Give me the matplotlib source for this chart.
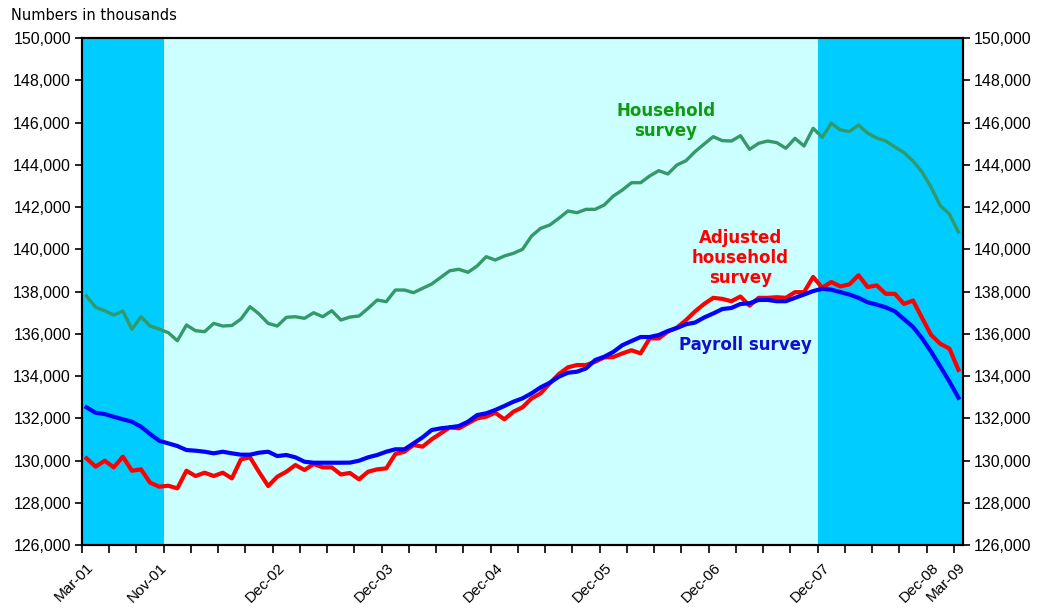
from matplotlib import pyplot as pl
from matplotlib.ticker import FuncFormatter, MultipleLocator
import numpy as np

# Monthly series, Mar-01 .. Mar-09 (numbers in thousands)
household = [
    137786, 137252, 137090, 136887, 137076, 136209, 136806, 136366, 136224,
    136050, 135670, 136413, 136144, 136097, 136490, 136366, 136390, 136697,
    137280, 136935, 136490, 136366, 136778, 136806, 136730, 136995, 136806,
    137090, 136650, 136790, 136840, 137200, 137597, 137517, 138070, 138070,
    137945, 138150, 138354, 138670, 138984, 139050, 138908, 139206, 139647,
    139490, 139680, 139808, 139997, 140627, 140990, 141147, 141464, 141810,
    141730, 141890, 141890, 142094, 142520, 142804, 143150, 143150, 143467,
    143720, 143562, 143988, 144192, 144620, 144982, 145328, 145140, 145124,
    145375, 144730, 145015, 145124, 145045, 144780, 145250, 144887, 145725,
    145300, 145962, 145645, 145580, 145880, 145500, 145266, 145124, 144840,
    144575, 144177, 143650, 142930, 142060, 141670, 140816,
]

adjusted = [
    130103, 129710, 129990, 129676, 130180, 129516, 129580, 128950, 128760,
    128806, 128683, 129516, 129265, 129423, 129265, 129423, 129155, 130055,
    130150, 129450, 128790, 129234, 129470, 129786, 129550, 129834, 129676,
    129676, 129340, 129410, 129108, 129470, 129580, 129628, 130305, 130416,
    130733, 130655, 131003, 131287, 131570, 131523, 131760, 131995, 132074,
    132260, 131948, 132310, 132517, 132942, 133180, 133652, 134090, 134410,
    134520, 134520, 134676, 134880, 134900, 135070, 135220, 135070, 135780,
    135780, 136100, 136290, 136645, 137060, 137410, 137700, 137650, 137540,
    137763, 137330, 137700, 137700, 137730, 137700, 137970, 137970, 138690,
    138180, 138450, 138240, 138340, 138770, 138210, 138290, 137890, 137890,
    137410, 137570, 136740, 135940, 135525, 135300, 134290,
]

payroll = [
    132517, 132260, 132200, 132070, 131950, 131836, 131600, 131253, 130937,
    130810, 130685, 130496, 130464, 130416, 130340, 130416, 130340, 130275,
    130275, 130370, 130416, 130210, 130260, 130150, 129942, 129895, 129895,
    129895, 129895, 129900, 129990, 130150, 130260, 130416, 130530, 130530,
    130810, 131097, 131443, 131523, 131570, 131632, 131836, 132150, 132233,
    132390, 132580, 132783, 132942, 133180, 133464, 133680, 133966, 134155,
    134203, 134360, 134756, 134913, 135140, 135460, 135655, 135845, 135845,
    135940, 136130, 136270, 136450, 136530, 136770, 136960, 137170, 137220,
    137410, 137445, 137600, 137600, 137540, 137540, 137700, 137857, 138020,
    138130, 138085, 137970, 137857, 137700, 137490, 137380, 137250, 137060,
    136690, 136320, 135780, 135140, 134450, 133735, 132970,
]

label_pos = [0, 8, 21, 33, 45, 57, 69, 81, 93, 96]
label_txt = ['Mar-01', 'Nov-01', 'Dec-02', 'Dec-03', 'Dec-04', 'Dec-05',
             'Dec-06', 'Dec-07', 'Dec-08', 'Mar-09']

recessions = [(-0.5, 8.5), (80.5, 96.5)]

x = np.arange(len(household))

fig = pl.figure(figsize=(10.37, 6.10), dpi=100)
ax = fig.add_axes([82/1037, 1-545/610, 881/1037, 507/610])
ax.set_facecolor('#CCFFFF')

for a, b in recessions:
    ax.axvspan(a, b, color='#00CCFF', lw=0, zorder=0)

ax.plot(x, household, color='#339966', lw=2.4, zorder=3)
ax.plot(x, adjusted, color='#FF0000', lw=3.0, zorder=4)
ax.plot(x, payroll, color='#0000FF', lw=3.0, zorder=5)

ax.set_xlim(-0.5, len(household)-0.5)
ax.set_ylim(126000, 150000)

fmt = FuncFormatter(lambda v, p: '{:,.0f}'.format(v))
ax.yaxis.set_major_locator(MultipleLocator(2000))
ax.yaxis.set_major_formatter(fmt)
ax.tick_params(axis='y', direction='out', length=5, width=1.2,
               labelsize=11.5, pad=3)
for t in ax.get_yticklabels():
    t.set_family('Liberation Sans')

ax.set_xticks(label_pos)
ax.set_xticklabels(label_txt, rotation=45, ha='right',
                   rotation_mode='anchor', family='Liberation Sans',
                   fontsize=11)
ax.tick_params(axis='x', which='major', length=0, pad=11)
ax.set_xticks(np.arange(-0.5, len(household), 3), minor=True)
ax.tick_params(axis='x', which='minor', direction='out', length=6,
               width=1.2)

for s in ax.spines.values():
    s.set_linewidth(1.5)
    s.set_color('black')

ax2 = ax.twinx()
ax2.set_ylim(126000, 150000)
ax2.yaxis.set_major_locator(MultipleLocator(2000))
ax2.yaxis.set_major_formatter(fmt)
ax2.tick_params(axis='y', direction='out', length=5, width=1.2,
                labelsize=11.5, pad=3)
for t in ax2.get_yticklabels():
    t.set_family('Liberation Sans')
for s in ax2.spines.values():
    s.set_linewidth(1.5)

fig.text(11/1037, 1-15/610, 'Numbers in thousands', fontsize=10.5,
         va='center', ha='left', family='DejaVu Sans')

ax.text(63.8, 146050, 'Household\nsurvey', color='#109A10', fontsize=12,
        fontweight='bold', ha='center', va='center', linespacing=1.15,
        zorder=6)
ax.text(72.0, 139600, 'Adjusted\nhousehold\nsurvey', color='#FF0000',
        fontsize=12, fontweight='bold', ha='center', va='center',
        linespacing=1.15, zorder=6)
ax.text(72.5, 135450, 'Payroll survey', color='#1010CC', fontsize=12,
        fontweight='bold', ha='center', va='center', zorder=6)

fig.savefig('out.png', dpi=100)
